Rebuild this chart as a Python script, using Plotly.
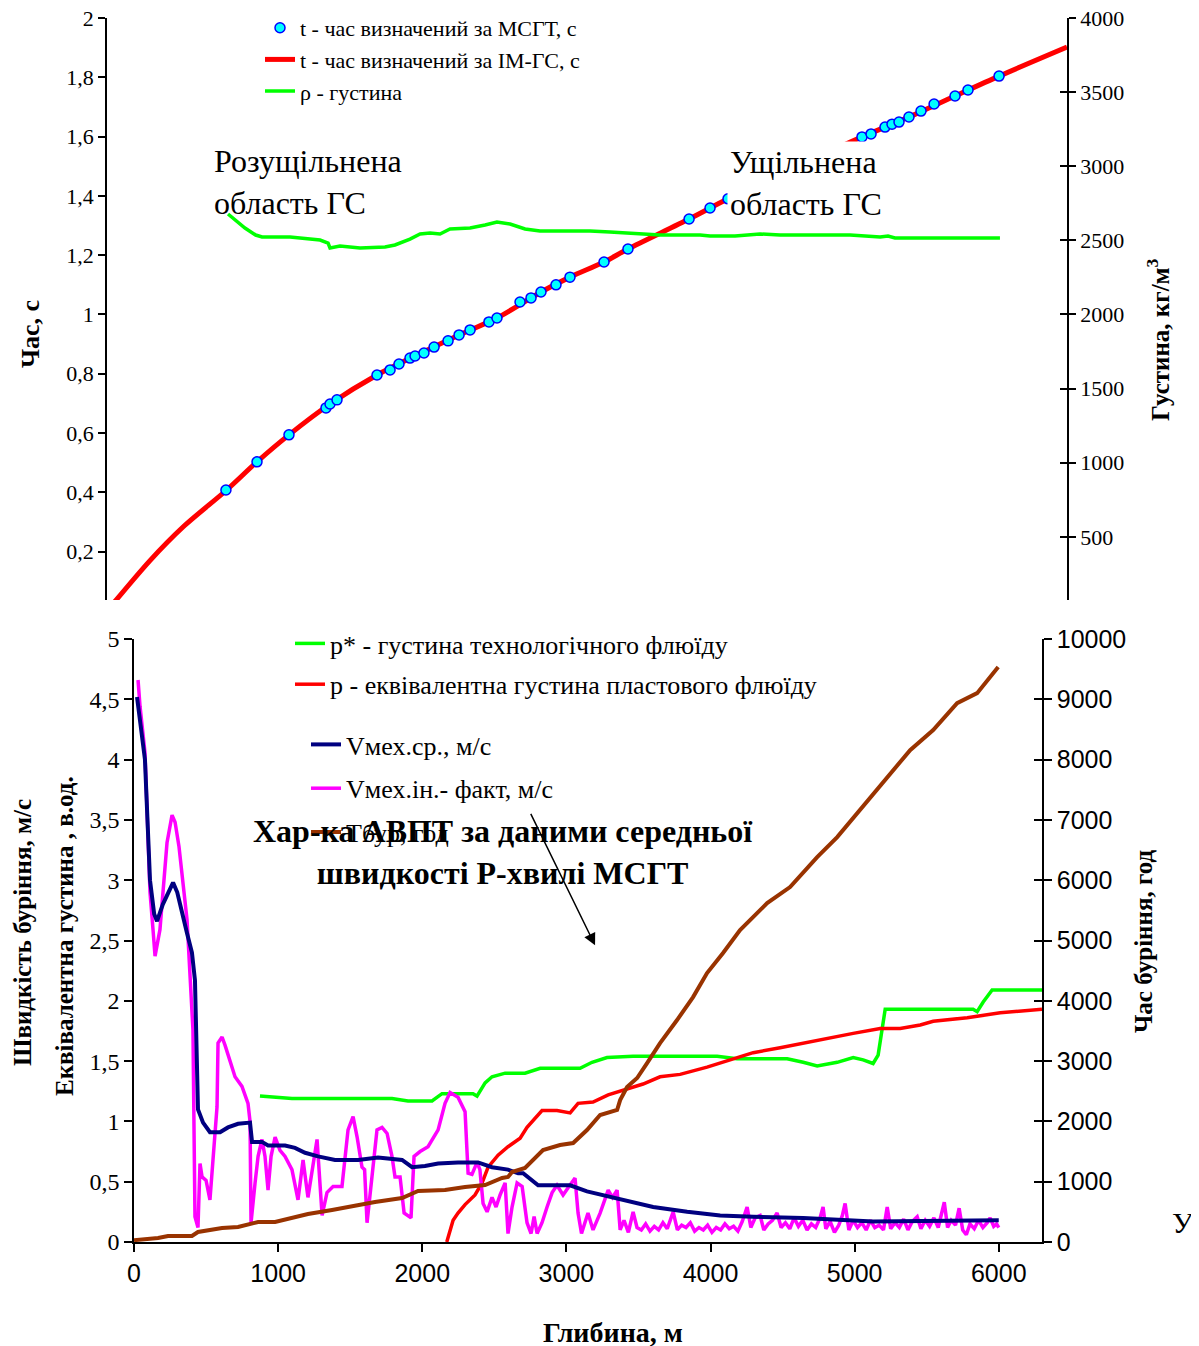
import plotly.graph_objects as go

# ---------------- DATA ----------------
# Top chart: time (s) vs depth (m), density (kg/m3)
MSGT_DEPTH = [800, 1009, 1224, 1473, 1500, 1547, 1816, 1904, 1964, 2038, 2072, 2132, 2200, 2294,
              2368, 2442, 2569, 2623, 2778, 2852, 2919, 3020, 3114, 3343, 3504, 3915, 4056, 4177,
              5078, 5139, 5233, 5280, 5327, 5394, 5475, 5563, 5704, 5791, 6000]
MSGT_T = [0.408, 0.503, 0.594, 0.685, 0.698, 0.712, 0.796, 0.813, 0.833, 0.853, 0.860, 0.870, 0.890,
          0.911, 0.931, 0.948, 0.975, 0.988, 1.042, 1.056, 1.076, 1.100, 1.126, 1.177, 1.221, 1.322,
          1.359, 1.390, 1.599, 1.609, 1.632, 1.642, 1.649, 1.666, 1.686, 1.710, 1.737, 1.757, 1.804]

IMGS_DEPTH = [0, 289, 513, 805, 1009, 1224, 1500, 1816, 2072, 2368, 2623, 2919, 3114, 3343, 3504,
              3915, 4177, 4650, 5078, 5394, 5704, 6000, 6457]
IMGS_T = [0.0, 0.170, 0.284, 0.408, 0.503, 0.594, 0.698, 0.796, 0.860, 0.931, 0.988, 1.076, 1.126,
          1.177, 1.221, 1.322, 1.390, 1.500, 1.599, 1.666, 1.737, 1.804, 1.902]

RHO_DEPTH = [814, 928, 1000, 1043, 1231, 1433, 1487, 1500, 1567, 1702, 1870, 1937, 2038, 2106, 2173,
             2240, 2307, 2442, 2543, 2623, 2711, 2812, 2912, 3047, 3249, 3383, 3518, 3720, 3989,
             4056, 4224, 4392, 4527, 4998, 5200, 5253, 5300, 6006]
RHO = [2678, 2583, 2536, 2523, 2523, 2502, 2482, 2449, 2462, 2449, 2455, 2469, 2509, 2543, 2550,
       2543, 2577, 2583, 2604, 2624, 2610, 2577, 2563, 2563, 2563, 2556, 2550, 2536, 2536,
       2529, 2529, 2543, 2536, 2536, 2523, 2529, 2516, 2516]

# Bottom chart
PSTAR_DEPTH = [874, 1096, 1790, 1901, 2068, 2137, 2352, 2380, 2436, 2484, 2575, 2713, 2818, 3095,
               3178, 3282, 3463, 4046, 4184, 4532, 4643, 4740, 4879, 4990, 5059, 5128, 5163, 5191,
               5212, 5822, 5850, 5892, 5954, 6300]
PSTAR = [1.21, 1.19, 1.19, 1.17, 1.17, 1.23, 1.23, 1.21, 1.32, 1.37, 1.40, 1.40, 1.44, 1.44,
         1.49, 1.53, 1.54, 1.54, 1.52, 1.52, 1.49, 1.46, 1.49, 1.53, 1.51, 1.48, 1.55, 1.76,
         1.93, 1.93, 1.91, 1.99, 2.09, 2.09]

PEQ_DEPTH = [2170, 2214, 2248, 2297, 2366, 2415, 2457, 2526, 2595, 2679, 2727, 2831, 2935, 3026,
             3081, 3185, 3290, 3421, 3532, 3650, 3789, 3976, 4184, 4296, 4483, 4643, 4761, 4990,
             5177, 5316, 5455, 5545, 5781, 6010, 6300]
PEQ = [0.0, 0.18, 0.24, 0.31, 0.39, 0.49, 0.62, 0.72, 0.79, 0.86, 0.95, 1.09, 1.09, 1.07,
       1.15, 1.16, 1.22, 1.27, 1.31, 1.37, 1.39, 1.45, 1.53, 1.57, 1.61, 1.65, 1.68, 1.73,
       1.77, 1.77, 1.80, 1.83, 1.86, 1.90, 1.93]

VSR_DEPTH = [21, 76, 111, 140, 160, 200, 271, 300, 368, 402, 423, 437, 444, 479, 527, 597, 652,
             722, 791, 805, 819, 888, 930, 1048, 1117, 1187, 1277, 1395, 1555, 1693, 1860, 1929,
             2019, 2110, 2248, 2387, 2484, 2595, 2665, 2700, 2804, 3026, 3143, 3255, 3393, 3602,
             3838, 4067, 4296, 4643, 5128, 6000]
VSR = [4.52, 4.00, 3.00, 2.72, 2.66, 2.80, 2.98, 2.90, 2.56, 2.40, 2.17, 1.48, 1.10, 0.99, 0.91,
       0.91, 0.95, 0.98, 0.99, 0.99, 0.83, 0.83, 0.80, 0.80, 0.78, 0.74, 0.71, 0.68, 0.68, 0.70,
       0.68, 0.62, 0.63, 0.65, 0.66, 0.66, 0.62, 0.60, 0.57, 0.57, 0.47, 0.47, 0.42, 0.39, 0.35,
       0.29, 0.25, 0.22, 0.21, 0.20, 0.17, 0.18]

VIN_DEPTH = [28, 42, 76, 111, 132, 146, 180, 229, 264, 285, 312, 368, 409, 423, 444, 458, 472, 500,
             527, 548, 576, 583, 611, 632, 701, 749, 791, 805, 812, 840, 861, 888, 909, 930, 951,
             979, 1013, 1048, 1096, 1138, 1173, 1207, 1242, 1270, 1290, 1305, 1339, 1381, 1443,
             1485, 1520, 1548, 1582, 1600, 1617, 1638, 1659, 1686, 1721, 1756, 1790, 1811, 1846,
             1874, 1922, 1943, 1985, 2040, 2110, 2158, 2193, 2248, 2297, 2318, 2345, 2380, 2400,
             2422, 2450, 2484, 2512, 2540, 2575, 2595, 2623, 2658, 2693, 2727, 2755, 2776, 2797,
             2831, 2866, 2901, 2935, 2977, 3012, 3060, 3081, 3105, 3150, 3185, 3234, 3290, 3320,
             3352, 3373, 3400, 3430, 3463, 3490, 3520, 3550, 3580, 3610, 3640, 3670, 3700, 3741,
             3770, 3800, 3830, 3860, 3890, 3920, 3950, 3980, 4010, 4040, 4070, 4100, 4130, 4160,
             4190, 4220, 4254, 4280, 4310, 4344, 4370, 4400, 4430, 4462, 4490, 4520, 4550, 4580,
             4610, 4640, 4670, 4700, 4730, 4760, 4781, 4800, 4830, 4860, 4890, 4915, 4934, 4960,
             4990, 5020, 5050, 5080, 5110, 5140, 5170, 5200, 5226, 5250, 5280, 5310, 5340, 5370,
             5400, 5434, 5460, 5490, 5520, 5550, 5580, 5600, 5622, 5645, 5670, 5700, 5725, 5750,
             5775, 5800, 5830, 5860, 5890, 5920, 5940, 5965, 5985, 6000]
VIN = [4.66, 4.44, 4.06, 2.90, 2.59, 2.37, 2.59, 3.31, 3.54, 3.48, 3.28, 2.67, 1.76, 0.21, 0.12,
       0.65, 0.54, 0.51, 0.35, 0.65, 1.12, 1.65, 1.70, 1.63, 1.37, 1.29, 1.15, 1.00, 0.16, 0.49,
       0.71, 0.85, 0.71, 0.43, 0.71, 0.87, 0.76, 0.71, 0.60, 0.35, 0.68, 0.37, 0.65, 0.85, 0.49,
       0.22, 0.41, 0.46, 0.46, 0.93, 1.04, 0.87, 0.62, 0.60, 0.16, 0.41, 0.68, 0.93, 0.95, 0.90,
       0.71, 0.54, 0.54, 0.24, 0.20, 0.71, 0.75, 0.79, 0.93, 1.15, 1.24, 1.20, 1.08, 0.57, 0.56,
       0.66, 0.60, 0.32, 0.25, 0.37, 0.29, 0.39, 0.49, 0.07, 0.29, 0.49, 0.46, 0.16, 0.07, 0.21,
       0.07, 0.16, 0.29, 0.41, 0.47, 0.39, 0.45, 0.53, 0.24, 0.07, 0.24, 0.10, 0.24, 0.43, 0.37,
       0.43, 0.10, 0.18, 0.08, 0.25, 0.12, 0.10, 0.15, 0.09, 0.13, 0.10, 0.16, 0.11, 0.25,
       0.10, 0.14, 0.12, 0.16, 0.09, 0.12, 0.10, 0.14, 0.08, 0.12, 0.10, 0.15, 0.11, 0.13,
       0.09, 0.17, 0.29, 0.12, 0.20, 0.22, 0.10, 0.15, 0.18, 0.24, 0.12, 0.16, 0.11, 0.20,
       0.13, 0.18, 0.10, 0.15, 0.12, 0.20, 0.29, 0.11, 0.17, 0.08, 0.14, 0.22, 0.32, 0.10,
       0.18, 0.12, 0.16, 0.10, 0.18, 0.12, 0.14, 0.10, 0.29, 0.11, 0.16, 0.12, 0.19, 0.10,
       0.17, 0.21, 0.11, 0.18, 0.13, 0.20, 0.12, 0.22, 0.33, 0.12, 0.18, 0.14, 0.28, 0.10,
       0.06, 0.15, 0.11, 0.18, 0.12, 0.16, 0.20, 0.13, 0.15, 0.12]

TBUR_DEPTH = [0, 167, 236, 402, 444, 541, 611, 722, 819, 861, 979, 1096, 1207, 1374, 1555, 1672,
              1860, 1901, 1971, 2158, 2297, 2436, 2554, 2595, 2623, 2713, 2769, 2838, 2956, 3047,
              3143, 3234, 3352, 3373, 3421, 3491, 3560, 3650, 3768, 3879, 3976, 4087, 4205, 4393,
              4552, 4740, 4879, 5038, 5226, 5385, 5545, 5711, 5850, 5920, 5996]
TBUR = [30, 66, 100, 100, 166, 199, 232, 249, 315, 332, 332, 398, 464, 531, 613, 663,
        730, 779, 846, 862, 912, 945, 1061, 1078, 1161, 1227, 1360, 1525, 1608, 1641,
        1857, 2106, 2189, 2354, 2570, 2719, 2968, 3299, 3681, 4062, 4460, 4792, 5173, 5620,
        5886, 6383, 6715, 7163, 7710, 8157, 8489, 8937, 9102, 9318, 9534]

T_TICKS = [0.2, 0.4, 0.6, 0.8, 1.0, 1.2, 1.4, 1.6, 1.8, 2.0]
T_TICKTEXT = ["0,2", "0,4", "0,6", "0,8", "1", "1,2", "1,4", "1,6", "1,8", "2"]
RHO_TICKS = [500, 1000, 1500, 2000, 2500, 3000, 3500, 4000]
V_TICKS = [0, 0.5, 1, 1.5, 2, 2.5, 3, 3.5, 4, 4.5, 5]
V_TICKTEXT = ["0", "0,5", "1", "1,5", "2", "2,5", "3", "3,5", "4", "4,5", "5"]
H_TICKS = [0, 1000, 2000, 3000, 4000, 5000, 6000, 7000, 8000, 9000, 10000]
X_TICKS = [0, 1000, 2000, 3000, 4000, 5000, 6000]

# ---------------- FIGURE ----------------
W, H = 1199, 1346
OFF = 8  # page offset of the figure in the browser
def fx(p):
    return (p - OFF) / W
def fy(p):
    return 1 - (p - OFF) / H

SERIF = "Liberation Serif"
SANS = "Liberation Sans"

fig = go.Figure()

# top chart
fig.add_trace(go.Scatter(x=IMGS_DEPTH, y=IMGS_T, mode="lines", name="t - час визначений за ІМ-ГС, с",
                         line=dict(color="#FF0000", width=5, shape="spline", smoothing=0.8),
                         xaxis="x", yaxis="y", legend="legend", legendgroup="a2", legendrank=2))
fig.add_trace(go.Scatter(x=RHO_DEPTH, y=RHO, mode="lines", name="ρ - густина",
                         line=dict(color="#00FF00", width=3.5), xaxis="x", yaxis="y2",
                         legend="legend", legendgroup="a3", legendrank=3))
fig.add_trace(go.Scatter(x=MSGT_DEPTH, y=MSGT_T, mode="markers", name="t - час визначений за МСГТ, с",
                         marker=dict(color="#00FFFF", size=10, line=dict(color="#0000FF", width=1.5)),
                         xaxis="x", yaxis="y", legend="legend", legendgroup="a1", legendrank=1))
fig.add_trace(go.Scatter(x=[], y=[], xaxis="x", yaxis="y5", showlegend=False))

# bottom chart
fig.add_trace(go.Scatter(x=PSTAR_DEPTH, y=PSTAR, mode="lines", name="p* - густина технологічного флюїду",
                         line=dict(color="#00FF00", width=3.5), xaxis="x2", yaxis="y3",
                         legend="legend2", legendgroup="b1"))
fig.add_trace(go.Scatter(x=PEQ_DEPTH, y=PEQ, mode="lines", name="p - еквівалентна густина пластового флюїду",
                         line=dict(color="#FF0000", width=3.5), xaxis="x2", yaxis="y3",
                         legend="legend2", legendgroup="b2"))
fig.add_trace(go.Scatter(x=TBUR_DEPTH, y=TBUR, mode="lines", name="Тбур, год",
                         line=dict(color="#993300", width=4), xaxis="x2", yaxis="y4",
                         legend="legend3", legendgroup="c3", legendrank=3))
fig.add_trace(go.Scatter(x=VIN_DEPTH, y=VIN, mode="lines", name="Vмех.ін.- факт, м/с",
                         line=dict(color="#FF00FF", width=3.5), xaxis="x2", yaxis="y3",
                         legend="legend3", legendgroup="c2", legendrank=2))
fig.add_trace(go.Scatter(x=VSR_DEPTH, y=VSR, mode="lines", name="Vмех.ср., м/с",
                         line=dict(color="#000080", width=4), xaxis="x2", yaxis="y3",
                         legend="legend3", legendgroup="c1", legendrank=1))
fig.add_trace(go.Scatter(x=[], y=[], xaxis="x2", yaxis="y6", showlegend=False))

axcommon = dict(showgrid=False, zeroline=False, showline=True, linecolor="black", linewidth=1.5,
                ticks="outside", tickcolor="black", tickwidth=1.5, automargin=False,
                ticklabeloverflow="allow")
crossax = dict(showticklabels=False, ticks="inside", tickcolor="black", tickwidth=1.5,
               showline=False, showgrid=False, zeroline=False, automargin=False)

fig.update_layout(
    template="none",
    width=W, height=H, margin=dict(l=0, r=0, t=0, b=0, pad=0, autoexpand=False),
    paper_bgcolor="white", plot_bgcolor="rgba(0,0,0,0)",
    xaxis=dict(domain=[fx(107), fx(1067)], range=[0, 6457], visible=False, anchor="y",
               automargin=False),
    yaxis=dict(domain=[fy(600), fy(18)], range=[0.037, 2], anchor="x", tickvals=T_TICKS,
               ticktext=T_TICKTEXT, ticklen=7,
               tickfont=dict(family=SERIF, size=22, color="black"), **axcommon),
    yaxis2=dict(overlaying="y", side="right", anchor="x", range=[74, 4000], tickvals=RHO_TICKS,
                ticktext=[str(v) for v in RHO_TICKS], ticklen=7,
                tickfont=dict(family=SERIF, size=22, color="black"), **axcommon),
    yaxis5=dict(overlaying="y", side="right", anchor="x", range=[74, 4000], tickvals=RHO_TICKS,
                ticklen=7, **crossax),
    xaxis2=dict(domain=[fx(134), fx(1042)], range=[0, 6300], anchor="y3", tickvals=X_TICKS,
                ticktext=[str(v) for v in X_TICKS], ticklen=8,
                tickfont=dict(family=SANS, size=25, color="black"), **axcommon),
    yaxis3=dict(domain=[fy(1242), fy(639)], range=[0, 5], anchor="x2", tickvals=V_TICKS,
                ticktext=V_TICKTEXT, ticklen=8,
                tickfont=dict(family=SERIF, size=24, color="black"), **axcommon),
    yaxis4=dict(overlaying="y3", side="right", anchor="x2", range=[0, 10000], tickvals=H_TICKS,
                ticktext=[str(v) for v in H_TICKS], ticklen=8,
                tickfont=dict(family=SANS, size=25, color="black"), **axcommon),
    yaxis6=dict(overlaying="y3", side="right", anchor="x2", range=[0, 10000], tickvals=H_TICKS,
                ticklen=8, **crossax),
    legend=dict(x=fx(260), y=fy(7), xanchor="left", yanchor="top", bgcolor="rgba(0,0,0,0)",
                font=dict(family=SERIF, size=22, color="black"), traceorder="grouped",
                tracegroupgap=0),
    legend2=dict(x=fx(290), y=fy(620), xanchor="left", yanchor="top", bgcolor="rgba(0,0,0,0)",
                 font=dict(family=SERIF, size=26, color="black"), traceorder="grouped",
                 tracegroupgap=4),
    legend3=dict(x=fx(306), y=fy(721), xanchor="left", yanchor="top", bgcolor="rgba(0,0,0,0)",
                 font=dict(family=SERIF, size=26, color="black"), traceorder="grouped",
                 tracegroupgap=7),
    showlegend=True,
)

def note(text, px, py, size, bold=False, angle=0, xa="center", ya="middle", **kw):
    t = "<b>" + text + "</b>" if bold else text
    d = dict(text=t, x=fx(px), y=fy(py), xref="paper", yref="paper", xanchor=xa, yanchor=ya,
             showarrow=False, textangle=angle, font=dict(family=SERIF, size=size, color="black"))
    d.update(kw)
    return d

ann = [
    note("Розущільнена<br>область ГС", 212, 141, 32, xa="left", ya="top", align="left"),
    note("Ущільнена<br>область ГС", 727, 141, 32, xa="left", ya="top", align="left",
         bgcolor="white", borderpad=2),
    note("Хар-ка АВПТ за даними середньої<br>швидкості Р-хвилі МСГТ", 503, 852, 32, bold=True),
    dict(text="", x=3199, y=2.46, xref="x2", yref="y3", showarrow=True, arrowhead=2,
         arrowsize=1.6, arrowwidth=1.5, arrowcolor="black", ax=-65, ay=-133),
    note("Час, с", 30, 334, 26, bold=True, angle=-90),
    note("Густина, кг/м<sup>3</sup>", 1158, 340, 25, bold=True, angle=-90),
    note("Швидкість буріння, м/с", 22, 933, 25, bold=True, angle=-90),
    note("Еквівалентна густина , в.од.", 64, 936, 25, bold=True, angle=-90),
    note("Час буріння, год", 1143, 942, 25, bold=True, angle=-90),
    note("Глибина, м", 613, 1332, 28, bold=True),
    note("У", 1183, 1222, 30),
]
fig.update_layout(annotations=ann)

fig.write_html("out.html")
